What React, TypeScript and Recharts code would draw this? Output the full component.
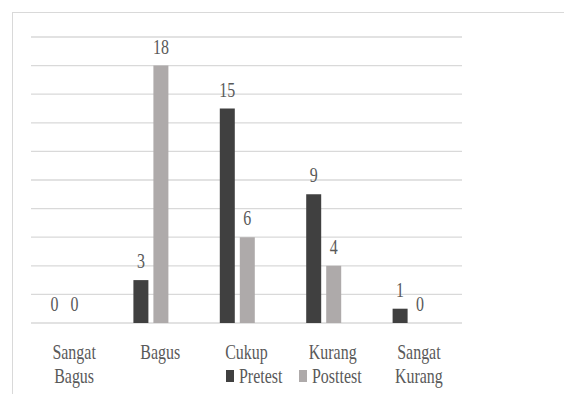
import React from 'react';
import { BarChart, Bar, XAxis, YAxis, CartesianGrid, Legend, LabelList } from 'recharts';

const categories = ['Sangat Bagus', 'Bagus', 'Cukup', 'Kurang', 'Sangat Kurang'];
const seriesNames = ['Pretest', 'Posttest'];
const pretest = [0, 3, 15, 9, 1];
const posttest = [0, 18, 6, 4, 0];
const yTicks = [0, 2, 4, 6, 8, 10, 12, 14, 16, 18, 20];

const data = categories.map((name, i) => ({ name, Pretest: pretest[i], Posttest: posttest[i] }));

const FONT = "'Times New Roman', Times, 'Liberation Serif', Tinos, serif";
const TEXT = '#595959';
const SQUEEZE = 0.76;
const textStyle = { fontFamily: FONT, fontSize: 21, fill: TEXT };

const CategoryTick = (props: any) => {
    const { x, y, payload } = props;
    const lines = String(payload.value).split(' ');
    return (
        <g>
            {lines.map((line, i) => (
                <text
                    key={i}
                    transform={`translate(${x},${y + 36 + i * 24}) scale(${SQUEEZE},1)`}
                    textAnchor="middle"
                    style={textStyle}
                >
                    {line}
                </text>
            ))}
        </g>
    );
};

const ValueLabel = (props: any) => {
    const { x, y, width, value } = props;
    return (
        <text
            transform={`translate(${x + width / 2},${y - 12}) scale(${SQUEEZE},1)`}
            textAnchor="middle"
            style={textStyle}
        >
            {String(value)}
        </text>
    );
};

const LegendContent = (props: any) => {
    const items = [...(props.payload || [])].sort(
        (a: any, b: any) => seriesNames.indexOf(a.value) - seriesNames.indexOf(b.value)
    );
    return (
        <svg width={170} height={24} style={{ display: 'block', overflow: 'visible' }}>
            {items.map((item: any, i: number) => (
                <g key={item.value}>
                    <rect x={i * 73} y={4} width={8} height={12} fill={item.color} />
                    <text transform={`translate(${i * 73 + 13},17) scale(${SQUEEZE},1)`} style={textStyle}>
                        {item.value}
                    </text>
                </g>
            ))}
        </svg>
    );
};

const App = () => {
    return (
        <div style={{ position: 'absolute', left: 0, top: 0, width: 564, height: 394, overflow: 'hidden', background: '#fff' }}>
            <div
                style={{
                    position: 'absolute',
                    left: 12,
                    top: 12,
                    width: 600,
                    height: 420,
                    border: '1px solid #d9d9d9',
                }}
            />
            <div style={{ position: 'absolute', left: 0, top: 0 }}>
                <BarChart
                    width={564}
                    height={394}
                    data={data}
                    margin={{ top: 37, right: 102, bottom: 41, left: 31 }}
                    barSize={15}
                    barGap={5}
                >
                    <CartesianGrid vertical={false} stroke="#d9d9d9" strokeWidth={1.3} />
                    <YAxis hide domain={[0, 20]} ticks={yTicks} />
                    <XAxis
                        dataKey="name"
                        height={30}
                        axisLine={false}
                        tickLine={false}
                        tickSize={0}
                        tickMargin={0}
                        interval={0}
                        tick={<CategoryTick />}
                    />
                    <XAxis xAxisId="bars" dataKey="name" hide padding={{ left: -10, right: 9 }} />
                    <Legend
                        layout="horizontal"
                        align="center"
                        verticalAlign="middle"
                        content={<LegendContent />}
                        wrapperStyle={{ position: 'absolute', left: 226, top: 366, width: 170 }}
                    />
                    <Bar xAxisId="bars" dataKey="Pretest" fill="#404040" minPointSize={0.01} isAnimationActive={false}>
                        <LabelList dataKey="Pretest" content={<ValueLabel />} />
                    </Bar>
                    <Bar xAxisId="bars" dataKey="Posttest" fill="#aeaaaa" minPointSize={0.01} isAnimationActive={false}>
                        <LabelList dataKey="Posttest" content={<ValueLabel />} />
                    </Bar>
                </BarChart>
            </div>
        </div>
    );
};

export default App;
